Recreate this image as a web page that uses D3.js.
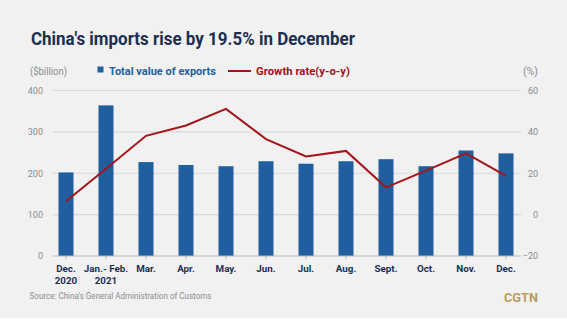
<!DOCTYPE html>
<html>
<head>
<meta charset="utf-8">
<script src="https://cdn.jsdelivr.net/npm/d3@7"></script>
<style>
  body { margin: 0; background: #fff; }
  svg { display: block; }
</style>
</head>
<body>
<div id="chart"></div>
<script>
// values
const months = ["Dec.|2020", "Jan.- Feb.|2021", "Mar.", "Apr.", "May.", "Jun.", "Jul.", "Aug.", "Sept.", "Oct.", "Nov.", "Dec."];
const totalValue = [202, 364, 227, 220, 217, 229, 223, 229, 234, 217, 255, 248];
const growthRate = [6.5, 22.2, 38.1, 43.1, 51.1, 36.5, 28.1, 30.8, 13.2, 21.3, 29.6, 18.7];
const leftTicks = [0, 100, 200, 300, 400];
const rightTicks = [-20, 0, 20, 40, 60];

const width = 567, height = 325;
const navy = "#1b2f52", blue = "#1f5f9e", red = "#a3141b", grey = "#8c8c8c";

const svg = d3.select("#chart").append("svg")
    .attr("width", width)
    .attr("height", height)
    .style("font-family", "Roboto, sans-serif");

svg.append("rect").attr("width", width).attr("height", 318).attr("fill", "#f1f1f1");

// squeeze a text to the width it has in the picture
function fit(sel, w) {
    return sel.attr("textLength", w).attr("lengthAdjust", "spacingAndGlyphs");
}

// title + legend
fit(svg.append("text")
    .attr("x", 31).attr("y", 45)
    .attr("fill", navy)
    .attr("font-size", 18.5).attr("font-weight", 700)
    .text("China's imports rise by 19.5% in December"), 324);

fit(svg.append("text").attr("x", 30).attr("y", 75).attr("fill", grey).attr("font-size", 10)
    .text("($billion)"), 37);
fit(svg.append("text").attr("x", 538).attr("y", 75).attr("fill", grey).attr("font-size", 10)
    .attr("text-anchor", "end").text("(%)"), 15);

svg.append("rect").attr("x", 97.5).attr("y", 66.5).attr("width", 6).attr("height", 6).attr("fill", blue);
fit(svg.append("text").attr("x", 109).attr("y", 75).attr("fill", blue)
    .attr("font-size", 10.5).attr("font-weight", 700).text("Total value of exports"), 107);
svg.append("line").attr("x1", 228).attr("x2", 251).attr("y1", 71).attr("y2", 71)
    .attr("stroke", red).attr("stroke-width", 2);
fit(svg.append("text").attr("x", 256).attr("y", 75).attr("fill", red)
    .attr("font-size", 10.5).attr("font-weight", 700).text("Growth rate(y-o-y)"), 94);

// scales
const x = d3.scaleBand().domain(months).range([46, 526]).paddingInner(0.625).paddingOuter(0.3125);
const yL = d3.scaleLinear().domain([0, 400]).range([256, 90.5]);
const yR = d3.scaleLinear().domain([-20, 60]).range([256, 90.5]);

// grid
svg.append("g")
    .selectAll("line")
    .data(leftTicks.slice(1))
    .join("line")
    .attr("x1", 53).attr("x2", 521)
    .attr("y1", d => yL(d)).attr("y2", d => yL(d))
    .attr("stroke", "#d8d8d8").attr("stroke-width", 1.2);

// axis labels on both sides
const leftAxis = svg.append("g")
    .attr("transform", "translate(43,0)")
    .call(d3.axisLeft(yL).tickValues(leftTicks).tickSize(0).tickPadding(0));
leftAxis.select(".domain").remove();
leftAxis.selectAll("text").attr("fill", grey).attr("font-size", 9).attr("font-family", "Roboto, sans-serif");

const rightAxis = svg.append("g")
    .attr("transform", "translate(538,0)")
    .call(d3.axisRight(yR).tickValues(rightTicks).tickSize(0).tickPadding(0));
rightAxis.select(".domain").remove();
rightAxis.selectAll("text").attr("fill", grey).attr("font-size", 9)
    .attr("font-family", "Roboto, sans-serif").attr("text-anchor", "end");

// bars
svg.append("g")
    .selectAll("rect")
    .data(totalValue)
    .join("rect")
    .attr("x", (d, i) => x(months[i]))
    .attr("width", x.bandwidth())
    .attr("y", d => yL(d))
    .attr("height", d => yL(0) - yL(d))
    .attr("fill", blue);

// bottom axis
const bottom = svg.append("g")
    .attr("transform", "translate(0,256)")
    .call(d3.axisBottom(x).tickSize(3).tickFormat(""));
bottom.select(".domain").attr("d", "M53,0H521").attr("stroke", "#b8b8b8").attr("stroke-width", 1.2);
bottom.selectAll(".tick line").attr("stroke", "#b8b8b8");

const labels = svg.append("g")
    .selectAll("text")
    .data(months)
    .join("text")
    .attr("x", d => x(d) + x.bandwidth() / 2)
    .attr("y", 272)
    .attr("text-anchor", "middle")
    .attr("fill", navy)
    .attr("font-size", 9.8).attr("font-weight", 700);
labels.each(function(d) {
    const parts = d.split("|");
    const t = d3.select(this);
    parts.forEach((p, k) => {
        t.append("tspan").attr("x", x(d) + x.bandwidth() / 2).attr("dy", k ? 11.5 : 0).text(p);
    });
});

// growth line
const line = d3.line()
    .x((d, i) => x(months[i]) + x.bandwidth() / 2)
    .y(d => yR(d));
svg.append("path")
    .datum(growthRate)
    .attr("d", line)
    .attr("fill", "none")
    .attr("stroke", red)
    .attr("stroke-width", 2);

// footer
fit(svg.append("text").attr("x", 29.5).attr("y", 299).attr("fill", grey).attr("font-size", 9)
    .text("Source: China's General Administration of Customs"), 182);
fit(svg.append("text").attr("x", 504).attr("y", 302).attr("fill", "#b99d5c")
    .attr("font-size", 13).attr("font-weight", 700).text("CGTN"), 34);
</script>
</body>
</html>
